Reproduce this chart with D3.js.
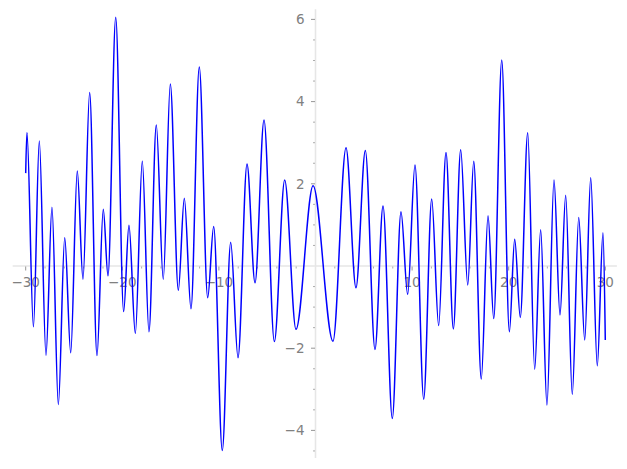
<!DOCTYPE html>
<html>
<head>
<meta charset="utf-8">
<script src="https://cdn.jsdelivr.net/npm/d3@7"></script>
<style>
  html, body { margin: 0; padding: 0; background: #fff; }
  svg { display: block; }
</style>
</head>
<body>
<svg id="chart" width="627" height="469"></svg>
<script>
// Local extrema of the curve (x, y)
const curveX = [-30.0, -29.87, -29.2, -28.59, -27.9, -27.28, -26.62, -25.96, -25.34, -24.66, -24.07,
  -23.38, -22.62, -21.97, -21.48, -20.68, -19.86, -19.31, -18.65, -17.93, -17.24, -16.48, -15.76,
  -15.03, -14.2, -13.58, -12.89, -12.03, -11.16, -10.54, -9.65, -8.78, -8.02, -7.09, -6.26, -5.33,
  -4.26, -3.19, -2.02, -0.25, 1.81, 3.16, 4.19, 5.16, 6.16, 6.99, 7.95, 8.85, 9.54, 10.3, 11.2,
  12.03, 12.75, 13.51, 14.27, 15.03, 15.76, 16.38, 17.16, 17.86, 18.45, 19.28, 20.07, 20.62, 21.2,
  21.97, 22.69, 23.31, 23.96, 24.69, 25.31, 25.9, 26.58, 27.25, 27.87, 28.49, 29.17, 29.76, 30.0];
const curveY = [2.26, 3.25, -1.48, 3.04, -2.17, 1.43, -3.37, 0.69, -2.11, 2.31, -0.32,
  4.22, -2.18, 1.38, -0.24, 6.05, -1.11, 0.99, -1.64, 2.55, -1.60, 3.43, -0.32,
  4.43, -0.59, 1.65, -1.04, 4.84, -0.77, 0.96, -4.49, 0.58, -2.23, 2.48, -0.41, 3.55,
  -1.84, 2.09, -1.54, 1.95, -1.83, 2.88, -0.53, 2.81, -2.03, 1.46, -3.71, 1.32, -0.69, 2.46, -3.24,
  1.63, -1.45, 2.76, -1.53, 2.83, -0.46, 2.55, -2.75, 1.22, -1.28, 5.01, -1.60, 0.65, -1.25,
  3.24, -2.51, 0.88, -3.38, 2.09, -1.19, 1.72, -3.12, 1.18, -1.80, 2.15, -2.43, 0.81, -1.80];

const xMajorTicks = [-30, -20, -10, 10, 20, 30];
const xMinorTicks = [-28, -26, -24, -22, -18, -16, -14, -12, -8, -6, -4, -2, 2, 4, 6, 8,
  12, 14, 16, 18, 22, 24, 26, 28];
const yMajorTicks = [-4, -2, 2, 4, 6];
const yMinorTicks = [-4.5, -3.5, -3, -2.5, -1.5, -1, -0.5, 0.5, 1, 1.5, 2.5, 3, 3.5, 4.5, 5, 5.5];
const xAxisExtent = [-31.35, 31.2];
const yAxisExtent = [-4.67, 6.25];

const svg = d3.select("#chart");
const x = d3.scaleLinear().domain([-30, 30]).range([25.7, 605.3]);
const y = d3.scaleLinear().domain([-4, 6]).range([430.4, 19.4]);

const axisColor = "#e6e6e6";
const tickColor = "#8a8a8a";
const labelColor = "#808080";
const fontFamily = "DejaVu Sans, sans-serif";
const fontSize = "13.5px";
const fmt = d3.format("d");

// axes lines
svg.append("line")
  .attr("x1", x(xAxisExtent[0])).attr("x2", x(xAxisExtent[1]))
  .attr("y1", y(0)).attr("y2", y(0))
  .attr("stroke", axisColor).attr("stroke-width", 1.6);
svg.append("line")
  .attr("x1", x(0)).attr("x2", x(0))
  .attr("y1", y(yAxisExtent[1])).attr("y2", y(yAxisExtent[0]))
  .attr("stroke", axisColor).attr("stroke-width", 1.6);

// x ticks
const gx = svg.append("g");
gx.selectAll("line.maj").data(xMajorTicks).join("line")
  .attr("x1", d => x(d)).attr("x2", d => x(d))
  .attr("y1", y(0) + 0.5).attr("y2", y(0) + 4.5)
  .attr("stroke", tickColor).attr("stroke-width", 0.9);
gx.selectAll("line.min").data(xMinorTicks).join("line")
  .attr("x1", d => x(d)).attr("x2", d => x(d))
  .attr("y1", y(0) + 0.5).attr("y2", y(0) + 2.5)
  .attr("stroke", tickColor).attr("stroke-width", 0.7);
gx.selectAll("text").data(xMajorTicks).join("text")
  .attr("x", d => x(d)).attr("y", y(0) + 21)
  .attr("text-anchor", "middle")
  .attr("font-family", fontFamily).attr("font-size", fontSize)
  .attr("fill", labelColor)
  .text(d => fmt(d));

// y ticks
const gy = svg.append("g");
gy.selectAll("line.maj").data(yMajorTicks).join("line")
  .attr("x1", x(0) - 4.5).attr("x2", x(0) - 0.5)
  .attr("y1", d => y(d)).attr("y2", d => y(d))
  .attr("stroke", tickColor).attr("stroke-width", 0.9);
gy.selectAll("line.min").data(yMinorTicks).join("line")
  .attr("x1", x(0) - 2.5).attr("x2", x(0) - 0.5)
  .attr("y1", d => y(d)).attr("y2", d => y(d))
  .attr("stroke", tickColor).attr("stroke-width", 0.7);
gy.selectAll("text").data(yMajorTicks).join("text")
  .attr("x", x(0) - 11).attr("y", d => y(d))
  .attr("dy", "0.36em")
  .attr("text-anchor", "end")
  .attr("font-family", fontFamily).attr("font-size", fontSize)
  .attr("fill", labelColor)
  .text(d => fmt(d));

// curve
const pts = curveX.map((d, i) => [d, curveY[i]]);
const line = d3.line()
  .x(d => x(d[0]))
  .y(d => y(d[1]))
  .curve(d3.curveMonotoneX);
svg.append("path")
  .attr("d", line(pts))
  .attr("fill", "none")
  .attr("stroke", "#0000ff")
  .attr("stroke-width", 1.5);
</script>
</body>
</html>
